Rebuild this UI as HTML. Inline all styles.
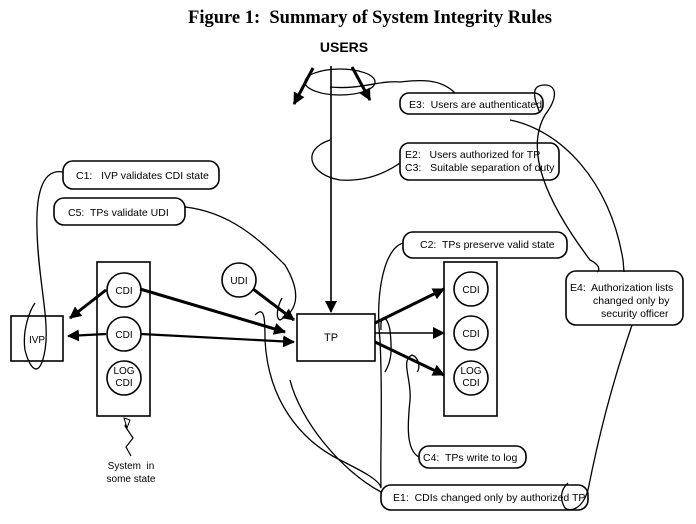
<!DOCTYPE html>
<html><head><style>
body{margin:0;background:#fff;width:696px;height:524px;overflow:hidden}
svg{display:block}
.t{font-family:"Liberation Sans",sans-serif;font-size:10.5px;fill:#000}
</style></head><body>
<svg width="696" height="524" viewBox="0 0 696 524" xmlns="http://www.w3.org/2000/svg">
<defs>
<marker id="c" markerWidth="12" markerHeight="12" refX="11" refY="6" orient="auto" markerUnits="userSpaceOnUse"><path d="M0,0 L12,6 L0,12 z" fill="#000"/></marker>
</defs>
<text x="370" y="23" text-anchor="middle" style="font-family:'Liberation Serif',serif;font-weight:bold;font-size:18.5px">Figure 1:&#160; Summary of System Integrity Rules</text>
<text x="344" y="52" text-anchor="middle" style="font-family:'Liberation Sans',sans-serif;font-weight:bold;font-size:14px">USERS</text>
<g fill="none" stroke="#000" stroke-width="1.6">
<rect x="400" y="93" width="143" height="21" rx="9"/>
<rect x="400" y="143" width="159" height="37" rx="9"/>
<rect x="63" y="161" width="156" height="28" rx="10"/>
<rect x="54" y="198" width="131" height="27" rx="10"/>
<rect x="403" y="232" width="164" height="26" rx="10"/>
<rect x="566" y="271" width="117" height="54" rx="10"/>
<rect x="419" y="446" width="107" height="22" rx="10"/>
<rect x="381" y="485" width="207" height="25" rx="10"/>
<rect x="11" y="316" width="52" height="45"/>
<rect x="97" y="262" width="53" height="154"/>
<rect x="297" y="314" width="78" height="47"/>
<rect x="444" y="262" width="53" height="154"/>
<circle cx="124" cy="290" r="17"/><circle cx="124" cy="334" r="17"/><circle cx="124" cy="378" r="17"/>
<circle cx="471" cy="289" r="17"/><circle cx="471" cy="333" r="17"/><circle cx="471" cy="378" r="17"/>
<circle cx="239" cy="280" r="17"/>
</g>
<g fill="none" stroke="#000" stroke-width="1.3">
<ellipse cx="340" cy="82" rx="35" ry="13"/>
<path d="M330,87 C360,90 380,80 400,82 C420,80 440,78 455,93"/>
<path d="M330,140 C300,150 310,175 340,180 C370,182 390,170 400,163"/>
<path d="M63,172 C40,168 36,200 37,230 C38,280 50,320 45,350 C40,380 30,370 25,350 C22,330 30,310 35,303"/>
<path d="M185,207 C230,212 260,240 285,265 C300,290 300,310 280,320 C275,318 278,305 282,298"/>
<path d="M403,243 C385,248 375,290 380,340 C383,400 380,460 381,487"/>
<path d="M381,330 C380,310 388,318 390,330 C392,350 392,360 385,372"/>
<path d="M255,315 C265,305 265,320 265,340 C268,400 300,440 340,460 C360,470 380,480 381,488"/>
<path d="M419,457 C405,450 408,420 410,400 C412,380 400,360 412,355 C420,358 420,370 417,372"/>
<path d="M540,113 C530,90 535,85 545,85 C555,85 560,95 545,115 C525,150 545,200 590,260 C600,265 600,270 597,272"/>
<path d="M510,120 C560,130 610,180 623,260 L624,272"/>
<path d="M632,325 C610,390 598,440 588,490 C582,510 570,512 565,508 C560,500 560,490 568,483"/>
<path d="M381,492 C340,470 300,420 290,380"/>
</g>
<g stroke="#000" stroke-width="3" fill="none">
<line x1="313" y1="68" x2="294" y2="104" marker-end="url(#c)"/>
<line x1="352" y1="67" x2="370" y2="100" marker-end="url(#c)"/>
<line x1="140" y1="289" x2="285" y2="332" marker-end="url(#c)"/>
<line x1="106" y1="290" x2="70" y2="318" marker-end="url(#c)"/>
<line x1="106" y1="334" x2="68" y2="336" marker-end="url(#c)" stroke-width="2.2"/>
<line x1="141" y1="334" x2="294" y2="342" marker-end="url(#c)" stroke-width="2.2"/>
<line x1="253" y1="289" x2="294" y2="320" marker-end="url(#c)"/>
<line x1="375" y1="323" x2="444" y2="289" marker-end="url(#c)"/>
<line x1="375" y1="342" x2="444" y2="375" marker-end="url(#c)"/>
</g>
<g stroke="#000" stroke-width="1.6" fill="none">
<line x1="331" y1="66" x2="331" y2="312" marker-end="url(#c)"/>
<line x1="375" y1="333" x2="444" y2="333" marker-end="url(#c)"/>
<path d="M131,456 L126,447 L133,438 L125,426 L128,420" stroke-width="1.2"/>
<path d="M124,418 L127,428 L130,420 z" fill="#fff" stroke-width="1"/>
</g>
<text class="t" x="409" y="108">E3:&#160; Users are authenticated</text>
<text class="t" x="405" y="158">E2:&#160;&#160; Users authorized for TP</text>
<text class="t" x="405" y="171">C3:&#160;&#160; Suitable separation of duty</text>
<text class="t" x="76" y="179">C1:&#160;&#160; IVP validates CDI state</text>
<text class="t" x="68" y="216">C5:&#160; TPs validate UDI</text>
<text class="t" x="420" y="248">C2:&#160; TPs preserve valid state</text>
<text class="t" x="570" y="291">E4:&#160; Authorization lists</text>
<text class="t" x="593" y="304">changed only by</text>
<text class="t" x="601" y="317">security officer</text>
<text class="t" x="423" y="461">C4:&#160; TPs write to log</text>
<text class="t" x="393" y="501">E1:&#160; CDIs changed only by authorized TP</text>
<g class="t" text-anchor="middle" style="font-size:10px">
<text x="124" y="294">CDI</text><text x="124" y="338">CDI</text><text x="124" y="374">LOG</text><text x="124" y="386">CDI</text>
<text x="471" y="293">CDI</text><text x="471" y="337">CDI</text><text x="471" y="374">LOG</text><text x="471" y="386">CDI</text>
<text x="239" y="284">UDI</text>
<text x="37" y="343">IVP</text>
<text x="331" y="341" style="font-size:11px">TP</text>
<text x="131" y="469">System&#160; in</text>
<text x="131" y="482">some state</text>
</g>
</svg>
</body></html>
